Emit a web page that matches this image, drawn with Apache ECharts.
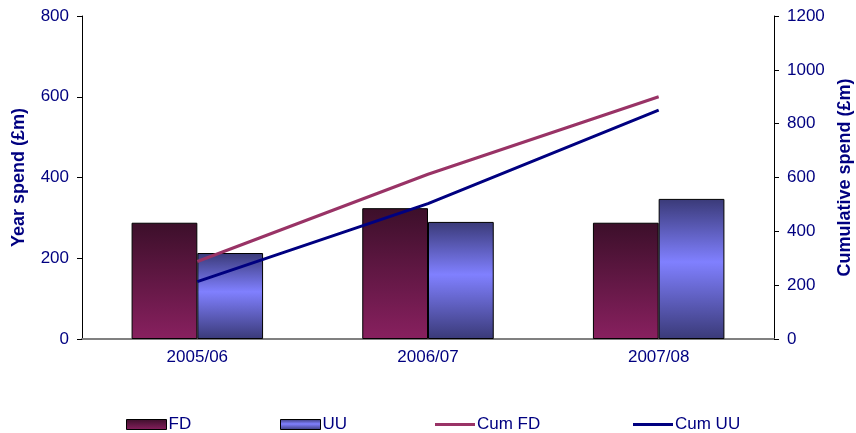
<!DOCTYPE html>
<html>
<head>
<meta charset="utf-8">
<script src="https://cdn.jsdelivr.net/npm/echarts@6/dist/echarts.min.js"></script>
<style>
  html, body { margin: 0; padding: 0; background: #fff; }
  #main { width: 856px; height: 433px; }
</style>
</head>
<body>
<div id="main"></div>
<script>
const years = ['2005/06', '2006/07', '2007/08']
const fd = [288, 324, 288]
const uu = [213, 290, 347]
const cumFd = [288, 612, 900]
const cumUu = [213, 503, 850]

const chart = echarts.init(document.getElementById('main'))
const navy = '#000080'
const font = 'Liberation Sans, Arial, sans-serif'

const fdGrad = new echarts.graphic.LinearGradient(0, 0, 0, 1, [
  { offset: 0, color: '#3c0f2a' },
  { offset: 1, color: '#88205f' },
])
const uuGrad = new echarts.graphic.LinearGradient(0, 0, 0, 1, [
  { offset: 0, color: '#3a3a78' },
  { offset: 0.45, color: '#8080ff' },
  { offset: 1, color: '#3a3a78' },
])

// one legend per item so each can sit where the original puts it
function legendAt(name, left, isLine) {
  return {
    data: [{ name: name, icon: 'rect' }],
    left: left,
    top: 416,
    padding: 0,
    itemWidth: 40,
    itemHeight: isLine ? 3 : 10,
    itemStyle: isLine ? {} : { borderColor: '#000', borderWidth: 1 },
    textStyle: {
      color: navy, fontSize: 17, fontFamily: font,
      padding: [0, 0, 0, -3],
    },
  }
}

const valueAxis = (extra) => Object.assign({
  type: 'value',
  nameLocation: 'middle',
  nameRotate: 90,
  nameTextStyle: { color: navy, fontSize: 18, fontWeight: 'bold', fontFamily: font },
  axisLine: { show: true, lineStyle: { color: '#000' } },
  axisTick: { show: true, length: 5, lineStyle: { color: '#000' } },
  axisLabel: { color: navy, fontSize: 17, margin: 13, fontFamily: font, formatter: (v) => String(v) },
  splitLine: { show: false },
}, extra)

chart.setOption({
  animation: false,
  textStyle: { fontFamily: font },
  legend: [
    legendAt('FD', 126, false),
    legendAt('UU', 280, false),
    legendAt('Cum FD', 435, true),
    legendAt('Cum UU', 633, true),
  ],
  grid: { left: 82, right: 82, top: 16, bottom: 94, outerBoundsMode: 'none', containLabel: false },
  xAxis: {
    type: 'category',
    data: years,
    axisLine: { lineStyle: { color: '#808080', width: 2 } },
    axisTick: { show: false },
    axisLabel: { color: navy, fontSize: 17, margin: 10, fontFamily: font },
  },
  yAxis: [
    valueAxis({ min: 0, max: 800, interval: 200, name: 'Year spend (£m)', nameGap: 54 }),
    valueAxis({ min: 0, max: 1200, interval: 200, position: 'right', name: 'Cumulative spend (£m)', nameGap: 60 }),
  ],
  series: [
    {
      name: 'FD', type: 'bar', data: fd,
      barGap: '0%', barCategoryGap: '43%',
      itemStyle: { color: fdGrad, borderColor: '#000', borderWidth: 1 },
    },
    {
      name: 'UU', type: 'bar', data: uu,
      itemStyle: { color: uuGrad, borderColor: '#000', borderWidth: 1 },
    },
    {
      name: 'Cum FD', type: 'line', yAxisIndex: 1, data: cumFd,
      symbol: 'none',
      lineStyle: { color: '#993366', width: 3 },
      itemStyle: { color: '#993366' },
    },
    {
      name: 'Cum UU', type: 'line', yAxisIndex: 1, data: cumUu,
      symbol: 'none',
      lineStyle: { color: navy, width: 3 },
      itemStyle: { color: navy },
    },
  ],
})
</script>
</body>
</html>
